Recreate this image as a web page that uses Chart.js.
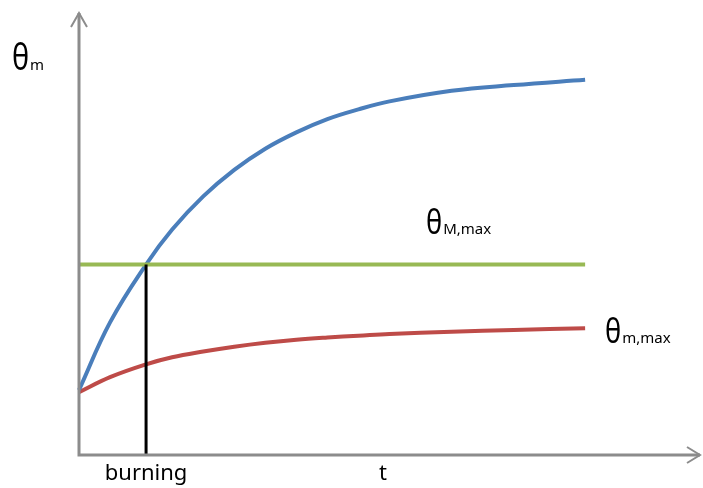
<!DOCTYPE html>
<html>
<head>
<meta charset="utf-8">
<script src="https://cdn.jsdelivr.net/npm/chart.js@4/dist/chart.umd.min.js"></script>
<style>
html,body{margin:0;padding:0;background:#fff;}
#wrap{width:703px;height:488px;}
</style>
</head>
<body>
<div id="wrap"><canvas id="c" width="703" height="488"></canvas></div>
<script>
// time values (arbitrary units)
const tValues = [0, 5, 10.8, 15, 20, 25, 30, 35, 40, 45, 50, 60, 70, 81.5];
// theta_m curve (blue)
const thetaM = [14.7, 30.0, 43.1, 51.0, 58.5, 64.5, 69.3, 73.0, 76.0, 78.2, 80.0, 82.4, 83.7, 84.9];
// theta_m,max curve (red)
const thetaMmax = [14.2, 17.6, 20.5, 22.1, 23.4, 24.5, 25.4, 26.1, 26.6, 27.0, 27.4, 27.9, 28.3, 28.7];
// theta_M,max limit (green)
const limitT = [0, 81.5];
const limitVal = [43.1, 43.1];
// burning time marker
const burnT = [10.8, 10.8];
const burnVal = [0, 43.1];

const labelYAxis = ['θ', 'm'];
const labelLimit = ['θ', 'M,max'];
const labelRed = ['θ', 'm,max'];
const labelBurning = 'burning';
const labelT = 't';

const pts = (xs, ys) => xs.map((x, i) => ({x: x, y: ys[i]}));

const FONT = '"Noto Sans", "DejaVu Sans", sans-serif';

const annot = {
  id: 'annot',
  afterDatasetsDraw(chart) {
    const ctx = chart.ctx;
    const xs = chart.scales.x, ys = chart.scales.y;
    const x0 = xs.getPixelForValue(0), y0 = ys.getPixelForValue(0);
    const xEnd = xs.getPixelForValue(xs.max), yTop = ys.getPixelForValue(ys.max);
    ctx.save();
    ctx.strokeStyle = '#8c8c8c';
    ctx.lineWidth = 3;
    ctx.lineCap = 'butt';
    ctx.beginPath();
    ctx.moveTo(x0, y0 + 1.5); ctx.lineTo(x0, yTop);
    ctx.moveTo(x0 - 1.5, y0); ctx.lineTo(xEnd, y0);
    ctx.stroke();
    ctx.lineWidth = 2;
    ctx.beginPath();
    ctx.moveTo(x0 - 8, yTop + 14); ctx.lineTo(x0, yTop); ctx.lineTo(x0 + 8, yTop + 14);
    ctx.moveTo(xEnd - 13, y0 - 8); ctx.lineTo(xEnd, y0); ctx.lineTo(xEnd - 13, y0 + 8);
    ctx.stroke();

    ctx.fillStyle = '#000';
    ctx.textBaseline = 'alphabetic';
    const sub = (parts, px, py, big, small) => {
      ctx.font = big + 'px ' + FONT;
      ctx.save();
      ctx.translate(px, py);
      ctx.scale(0.8, 1);
      ctx.fillText(parts[0], 0, 0);
      ctx.restore();
      const w = ctx.measureText(parts[0]).width * 0.8;
      ctx.font = small + 'px ' + FONT;
      ctx.fillText(parts[1], px + w + 1, py);
    };
    ctx.textAlign = 'left';
    sub(labelYAxis, 12, 70, 36, 15);
    sub(labelLimit, 426, 234, 34, 15);
    sub(labelRed, 605, 343, 34, 15);
    ctx.font = '22px ' + FONT;
    ctx.textAlign = 'center';
    ctx.fillText(labelBurning, xs.getPixelForValue(burnT[0]), 480);
    ctx.fillText(labelT, 383, 480);
    ctx.restore();
  }
};

new Chart(document.getElementById('c'), {
  type: 'scatter',
  data: {
    datasets: [
      {data: pts(tValues, thetaM), borderColor: '#4a7ebb', borderWidth: 4, showLine: true, pointRadius: 0, tension: 0.4, order: 3},
      {data: pts(tValues, thetaMmax), borderColor: '#be4b48', borderWidth: 4, showLine: true, pointRadius: 0, tension: 0.4, order: 4},
      {data: pts(limitT, limitVal), borderColor: '#98b954', borderWidth: 4, showLine: true, pointRadius: 0, order: 2},
      {data: pts(burnT, burnVal), borderColor: '#000000', borderWidth: 3, showLine: true, pointRadius: 0, order: 1}
    ]
  },
  options: {
    responsive: false,
    animation: false,
    devicePixelRatio: 1,
    layout: {padding: {left: 79, right: 3, top: 13, bottom: 33}},
    clip: false,
    plugins: {legend: {display: false}, tooltip: {enabled: false}},
    scales: {
      x: {type: 'linear', min: 0, max: 100, display: false},
      y: {type: 'linear', min: 0, max: 100, display: false}
    }
  },
  plugins: [annot]
});
</script>
</body>
</html>
